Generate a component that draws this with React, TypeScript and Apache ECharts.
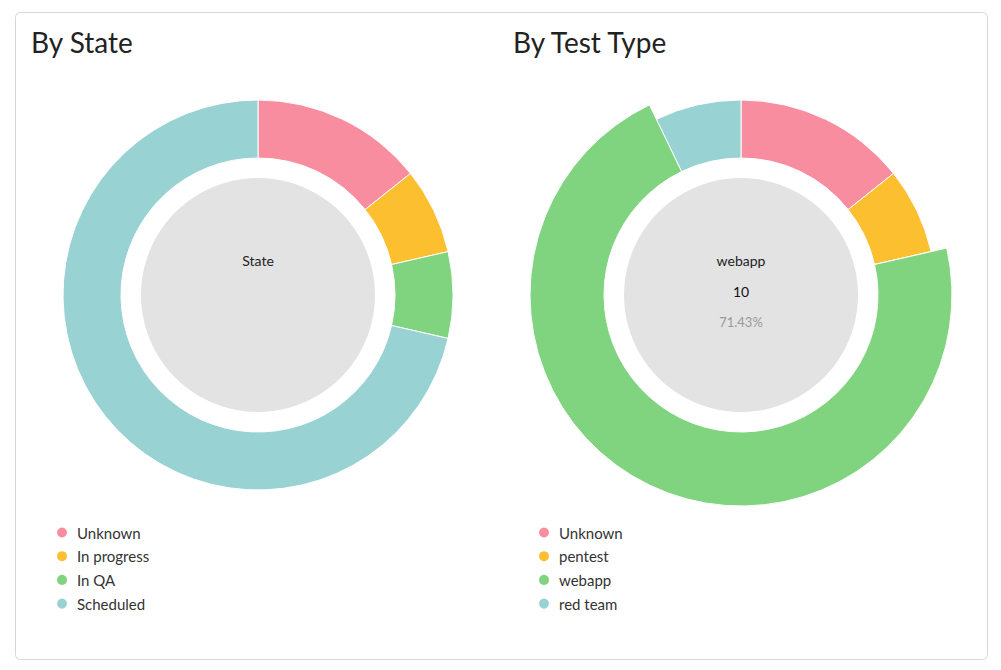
import React, { useEffect, useRef } from "react";
import * as echarts from "echarts";

const stateNames = ["Unknown", "In progress", "In QA", "Scheduled"];
const stateValues = [2, 1, 1, 10];
const typeNames = ["Unknown", "pentest", "webapp", "red team"];
const typeValues = [2, 1, 10, 1];
const colors = ["#F98DA0", "#FBBF2F", "#80D37F", "#99D2D2"];
const highlightedType = 2;

const FONT = "Lato, 'Noto Sans', sans-serif";

export default function App() {
  const ref = useRef<HTMLDivElement>(null);
  useEffect(() => {
    if (!ref.current) return;
    const chart = echarts.init(ref.current, undefined, { renderer: "svg" });
    const total = typeValues.reduce((a, b) => a + b, 0);
    const hv = typeValues[highlightedType];
    const pct = ((hv / total) * 100).toFixed(2) + "%";

    const mk = (names: string[], vals: number[]) =>
      names.map((n, i) => ({ name: n, value: vals[i], itemStyle: { color: colors[i] } }));

    const legendCommon = {
      orient: "vertical" as const,
      top: 525,
      padding: 0,
      icon: "circle",
      itemWidth: 20,
      itemHeight: 12,
      itemGap: 8.7,
      selectedMode: false,
      textStyle: { fontFamily: FONT, fontSize: 15, color: "#333" },
    };

    chart.setOption({
      animation: false,
      color: colors,
      title: [
        { text: "By State", left: 26, top: 23, textStyle: { fontFamily: FONT, fontSize: 28, fontWeight: "normal", color: "#222" } },
        { text: "By Test Type", left: 508, top: 23, textStyle: { fontFamily: FONT, fontSize: 28, fontWeight: "normal", color: "#222" } },
      ],
      legend: [
        { ...legendCommon, left: 55, data: stateNames },
        { ...legendCommon, left: 537, data: typeNames },
      ],
      graphic: [
        { type: "rect", shape: { x: 15.5, y: 12.5, width: 972, height: 647, r: 5 }, style: { fill: "#fff", stroke: "#d6d6d6", lineWidth: 1 }, z: -10, silent: true },
        { type: "circle", shape: { cx: 258, cy: 295, r: 117 }, style: { fill: "#E3E3E3" }, silent: true },
        { type: "circle", shape: { cx: 741, cy: 295, r: 117 }, style: { fill: "#E3E3E3" }, silent: true },
        { type: "text", x: 258, y: 260, style: { text: "State", fill: "#222", font: `14px ${FONT}`, align: "center", verticalAlign: "middle" }, silent: true },
        { type: "text", x: 741, y: 260, style: { text: typeNames[highlightedType], fill: "#222", font: `14px ${FONT}`, align: "center", verticalAlign: "middle" }, silent: true },
        { type: "text", x: 741, y: 291, style: { text: String(hv), fill: "#111", font: `14px ${FONT}`, align: "center", verticalAlign: "middle" }, silent: true },
        { type: "text", x: 741, y: 322, style: { text: pct, fill: "#999", font: `13px ${FONT}`, align: "center", verticalAlign: "middle" }, silent: true },
      ],
      series: [
        {
          type: "pie",
          center: [258, 295],
          radius: [137, 195],
          startAngle: 90,
          label: { show: false },
          labelLine: { show: false },
          itemStyle: { borderColor: "#fff", borderWidth: 1 },
          emphasis: { disabled: true },
          data: mk(stateNames, stateValues),
        },
        {
          type: "pie",
          center: [741, 295],
          radius: [137, 195],
          startAngle: 90,
          label: { show: false },
          labelLine: { show: false },
          itemStyle: { borderColor: "#fff", borderWidth: 1 },
          emphasis: { disabled: true },
          data: mk(typeNames, typeValues),
        },
        {
          type: "pie",
          center: [741, 295],
          radius: [137, 211],
          startAngle: 90,
          silent: true,
          label: { show: false },
          labelLine: { show: false },
          emphasis: { disabled: true },
          data: typeNames.map((n, i) => ({
            name: n,
            value: typeValues[i],
            itemStyle:
              i === highlightedType
                ? { color: colors[i], borderColor: "#fff", borderWidth: 1 }
                : { color: "rgba(0,0,0,0)", borderWidth: 0 },
          })),
        },
      ],
    });
    return () => chart.dispose();
  }, []);
  return <div ref={ref} style={{ position: "absolute", left: 0, top: 0, width: 1001, height: 670 }} />;
}
